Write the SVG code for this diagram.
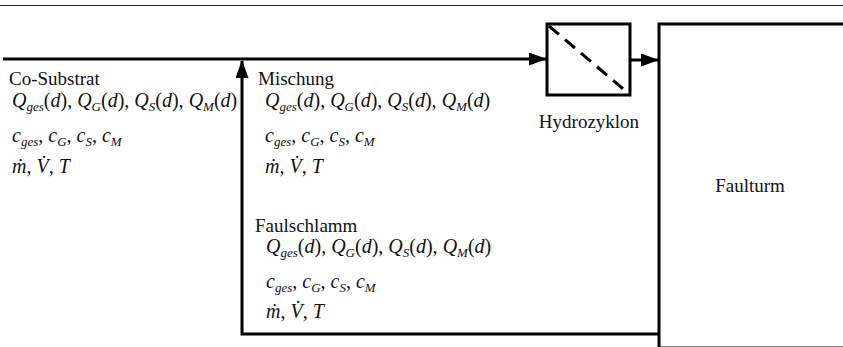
<svg xmlns="http://www.w3.org/2000/svg" width="843" height="347" viewBox="0 0 843 347">
<defs>
<style>
.t{font-family:"Liberation Serif","Times New Roman",Times,serif;font-size:19px;fill:#111}
.f{font-family:"Liberation Serif","Times New Roman",Times,serif;font-size:20px;fill:#111}
.i{font-style:italic}
.s{font-size:13px;font-style:italic}
.ln{fill:none;stroke:#000;stroke-width:3}
</style>
<marker id="ah" markerUnits="userSpaceOnUse" markerWidth="18" markerHeight="13" refX="17" refY="6.5" orient="auto">
<path d="M0,0 L18,6.5 L0,13 z" fill="#000"/>
</marker>
</defs>
<rect width="843" height="347" fill="#fff"/>
<line x1="0" y1="5.5" x2="843" y2="5.5" stroke="#222" stroke-width="1"/>

<g id="connectors">
<path class="ln" d="M3,59 H546" marker-end="url(#ah)"/>
<path class="ln" d="M630,60 H658" marker-end="url(#ah)"/>
<path class="ln" d="M659,334 H242 V61" marker-end="url(#ah)"/>
</g>

<g id="hydrozyklon">
<rect x="547" y="24" width="83" height="71" class="ln"/>
<line x1="549" y1="26" x2="628" y2="93" stroke="#000" stroke-width="3" stroke-dasharray="13,8"/>
<text class="t" x="589" y="128" text-anchor="middle">Hydrozyklon</text>
</g>

<g id="faulturm">
<rect x="659" y="24" width="200" height="324" class="ln"/>
<text class="t" x="750" y="192" text-anchor="middle">Faulturm</text>
</g>

<g id="co-substrat">
<text class="t" x="9" y="85">Co-Substrat</text>
<text class="f" x="12" y="107"><tspan class="i">Q</tspan><tspan class="s" dy="4">ges</tspan><tspan dy="-4">(</tspan><tspan class="i">d</tspan>), <tspan class="i">Q</tspan><tspan class="s" dy="4">G</tspan><tspan dy="-4">(</tspan><tspan class="i">d</tspan>), <tspan class="i">Q</tspan><tspan class="s" dy="4">S</tspan><tspan dy="-4">(</tspan><tspan class="i">d</tspan>), <tspan class="i">Q</tspan><tspan class="s" dy="4">M</tspan><tspan dy="-4">(</tspan><tspan class="i">d</tspan>)</text>
<text class="f" x="12" y="142"><tspan class="i">c</tspan><tspan class="s" dy="4">ges</tspan><tspan dy="-4">, </tspan><tspan class="i">c</tspan><tspan class="s" dy="4">G</tspan><tspan dy="-4">, </tspan><tspan class="i">c</tspan><tspan class="s" dy="4">S</tspan><tspan dy="-4">, </tspan><tspan class="i">c</tspan><tspan class="s" dy="4">M</tspan></text>
<text class="f" x="12" y="173"><tspan class="i">&#x1E41;</tspan>, <tspan class="i">V&#x307;</tspan>, <tspan class="i">T</tspan></text>
</g>

<g id="mischung">
<text class="t" x="258" y="85">Mischung</text>
<text class="f" x="265" y="107"><tspan class="i">Q</tspan><tspan class="s" dy="4">ges</tspan><tspan dy="-4">(</tspan><tspan class="i">d</tspan>), <tspan class="i">Q</tspan><tspan class="s" dy="4">G</tspan><tspan dy="-4">(</tspan><tspan class="i">d</tspan>), <tspan class="i">Q</tspan><tspan class="s" dy="4">S</tspan><tspan dy="-4">(</tspan><tspan class="i">d</tspan>), <tspan class="i">Q</tspan><tspan class="s" dy="4">M</tspan><tspan dy="-4">(</tspan><tspan class="i">d</tspan>)</text>
<text class="f" x="265" y="142"><tspan class="i">c</tspan><tspan class="s" dy="4">ges</tspan><tspan dy="-4">, </tspan><tspan class="i">c</tspan><tspan class="s" dy="4">G</tspan><tspan dy="-4">, </tspan><tspan class="i">c</tspan><tspan class="s" dy="4">S</tspan><tspan dy="-4">, </tspan><tspan class="i">c</tspan><tspan class="s" dy="4">M</tspan></text>
<text class="f" x="265" y="173"><tspan class="i">&#x1E41;</tspan>, <tspan class="i">V&#x307;</tspan>, <tspan class="i">T</tspan></text>
</g>

<g id="faulschlamm">
<text class="t" x="255" y="232">Faulschlamm</text>
<text class="f" x="266" y="253"><tspan class="i">Q</tspan><tspan class="s" dy="4">ges</tspan><tspan dy="-4">(</tspan><tspan class="i">d</tspan>), <tspan class="i">Q</tspan><tspan class="s" dy="4">G</tspan><tspan dy="-4">(</tspan><tspan class="i">d</tspan>), <tspan class="i">Q</tspan><tspan class="s" dy="4">S</tspan><tspan dy="-4">(</tspan><tspan class="i">d</tspan>), <tspan class="i">Q</tspan><tspan class="s" dy="4">M</tspan><tspan dy="-4">(</tspan><tspan class="i">d</tspan>)</text>
<text class="f" x="266" y="288"><tspan class="i">c</tspan><tspan class="s" dy="4">ges</tspan><tspan dy="-4">, </tspan><tspan class="i">c</tspan><tspan class="s" dy="4">G</tspan><tspan dy="-4">, </tspan><tspan class="i">c</tspan><tspan class="s" dy="4">S</tspan><tspan dy="-4">, </tspan><tspan class="i">c</tspan><tspan class="s" dy="4">M</tspan></text>
<text class="f" x="266" y="318"><tspan class="i">&#x1E41;</tspan>, <tspan class="i">V&#x307;</tspan>, <tspan class="i">T</tspan></text>
</g>
</svg>
